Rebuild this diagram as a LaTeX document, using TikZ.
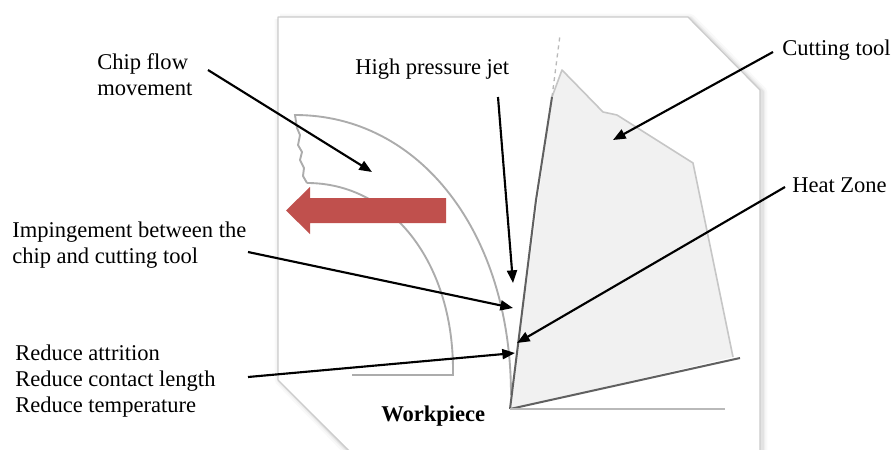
\documentclass[tikz,border=0pt]{standalone}
\usepackage{fontspec}
\setmainfont{Liberation Serif}
\usetikzlibrary{arrows.meta}

\definecolor{flowred}{HTML}{C0504D}
\definecolor{toolfill}{HTML}{F1F1F1}

\begin{document}
\begin{tikzpicture}
    [x=0.75pt, y=-0.75pt,
    pointer/.style={line width=1.6pt, -{Triangle[length=9.5pt,width=7.5pt]}},
    lbl/.style={inner sep=0pt, anchor=base west, align=left, font=\fontsize{16.9}{19.2}\selectfont},
    chipline/.style={draw=gray!65, line width=1.4pt},
    tooledge/.style={draw=gray!75!black, line width=1.5pt}]
    \useasboundingbox (0,0) rectangle (894,450);

    %% panel with soft shadow
    \foreach \w/\o in {8/0.05, 5/0.07, 3/0.12}
        \draw[line width=\w pt, gray, opacity=\o, line join=round]
            (280,19) -- (690,19) -- (762,92) -- (762,470) (280,19) -- (280,380) -- (350,452);
    \fill[white] (278,17) -- (688,17) -- (760,90) -- (760,470) -- (370,470) -- (278,380) -- cycle;
    \draw[gray!40, line width=1pt, line join=round]
        (278,380) -- (278,17) -- (688,17) -- (760,90) -- (760,470);
    \draw[gray!40, line width=1pt] (278,380) -- (350,452);

    %% chip
    \draw[chipline] (307,183) -- (303,176) -- (304,168) -- (300,160) -- (302,152)
        -- (298,145) -- (300,135) -- (297,128) -- (295,115)
        .. controls (420,115) and (511,233) .. (511,395);
    \draw[chipline] (307,183) .. controls (392,183) and (453,263) .. (453,370)
        -- (453,375) -- (352,375);

    %% chip flow direction
    \fill[flowred] (446,198) -- (310,198) -- (310,187) -- (286,210.5)
        -- (310,234) -- (310,223) -- (446,223) -- cycle;

    %% cutting tool
    \fill[toolfill] (510,409) -- (552,97) -- (562,70) -- (603,112) -- (617,115)
        -- (693,163) -- (733,357) -- cycle;
    \draw[gray!45, line width=1.2pt, line join=round]
        (552,97) -- (562,70) -- (603,112) -- (617,115) -- (693,163) -- (733,357);
    \draw[gray!55, line width=1pt, dashed] (552,97) -- (560,35);
    \draw[tooledge] (510,409) -- (536,200) -- (552,97);
    \draw[tooledge] (510,409) -- (740,358);
    \draw[gray!55, line width=1.5pt] (510,409) -- (725,409);

    %% labels (multi-line ones sit on their last baseline)
    \node[lbl] (chipflow) at (97,95) {Chip flow\\movement};
    \node[lbl] (jet) at (355,74) {High pressure jet};
    \node[lbl] (tool) at (782,55) {Cutting tool};
    \node[lbl] (heat) at (792,192) {Heat Zone};
    \node[lbl] (impinge) at (12,263) {Impingement between the\\chip and cutting tool};
    \node[lbl] (reduce) at (15,412) {Reduce attrition\\Reduce contact length\\Reduce temperature};
    \node[lbl, font=\fontsize{16.9}{19.2}\selectfont\bfseries] (workpiece) at (381,421) {Workpiece};

    %% arrow ends
    \coordinate (chipflow-from) at (208,70);
    \coordinate (chipflow-to) at (372,172);
    \coordinate (jet-from) at (498,97);
    \coordinate (jet-to) at (513,283);
    \coordinate (tool-from) at (773,52);
    \coordinate (tool-to) at (613,140);
    \coordinate (heat-from) at (785,187);
    \coordinate (heat-to) at (517,343);
    \coordinate (impinge-from) at (248,252);
    \coordinate (impinge-to) at (513,308);
    \coordinate (reduce-from) at (248,377);
    \coordinate (reduce-to) at (515,353);

    \draw[pointer] (chipflow-from) -- (chipflow-to);
    \draw[pointer] (jet-from) -- (jet-to);
    \draw[pointer] (tool-from) -- (tool-to);
    \draw[pointer] (heat-from) -- (heat-to);
    \draw[pointer] (impinge-from) -- (impinge-to);
    \draw[pointer] (reduce-from) -- (reduce-to);
\end{tikzpicture}
\end{document}
